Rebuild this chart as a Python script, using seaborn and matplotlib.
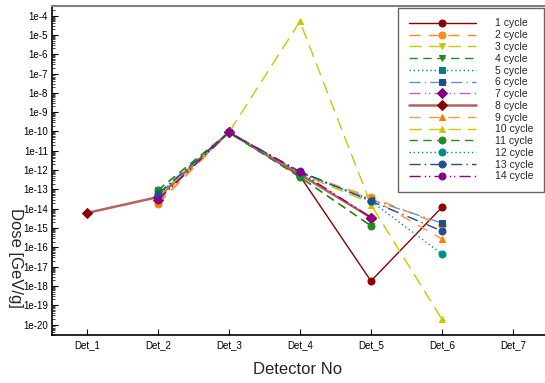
import numpy as np
import pandas as pd
import matplotlib
matplotlib.use("Agg")
import matplotlib.pyplot as plt
import seaborn as sns
from matplotlib.ticker import FixedLocator, LogLocator, NullFormatter

detectors = ["Det_1", "Det_2", "Det_3", "Det_4", "Det_5", "Det_6", "Det_7"]
nan = np.nan

cycle_labels = ["1 cycle", "2 cycle", "3 cycle", "4 cycle", "5 cycle", "6 cycle", "7 cycle",
                "8 cycle", "9 cycle", "10 cycle", "11 cycle", "12 cycle", "13 cycle", "14 cycle"]

c1 = [nan, 4.0e-14, 9.0e-11, 5.0e-13, 1.8e-18, 1.2e-14, nan]
c2 = [nan, 1.7e-14, 9.0e-11, 7.0e-13, 4.0e-14, 1.4e-15, nan]
c3 = [nan, 3.0e-14, 9.0e-11, 6.5e-13, 2.0e-14, nan, nan]
c4 = [nan, 9.0e-14, 9.0e-11, 4.4e-13, 1.3e-15, nan, nan]
c5 = [nan, 5.0e-14, 9.0e-11, 7.5e-13, 3.0e-14, nan, nan]
c6 = [nan, 5.8e-14, 9.0e-11, 8.0e-13, 3.0e-14, 1.8e-15, nan]
c7 = [nan, 2.8e-14, 9.0e-11, 7.0e-13, 3.5e-15, nan, nan]
c8 = [6.0e-15, 4.0e-14, 9.0e-11, 6.0e-13, 3.5e-15, nan, nan]
c9 = [nan, 2.0e-14, 9.0e-11, 7.5e-13, 3.5e-14, 2.7e-16, nan]
c10 = [nan, 4.5e-14, 9.0e-11, 5.0e-5, 1.6e-14, 1.9e-20, nan]
c11 = [nan, 9.0e-14, 9.0e-11, 4.4e-13, 1.3e-15, nan, nan]
c12 = [nan, 5.0e-14, 9.0e-11, 7.5e-13, 2.5e-14, 4.5e-17, nan]
c13 = [nan, 5.8e-14, 9.0e-11, 8.5e-13, 2.5e-14, 7.0e-16, nan]
c14 = [nan, 2.8e-14, 9.0e-11, 8.0e-13, 3.5e-15, nan, nan]
series = [c1, c2, c3, c4, c5, c6, c7, c8, c9, c10, c11, c12, c13, c14]

ytick_labels = ["1e-%d" % k for k in range(4, 21)]

styles = [
    dict(color="#8B0000", mfc="#8B0000", ls="-", marker="o", lw=1.0),
    dict(color="#FF8C1A", mfc="#FF8C1A", ls=(0, (8, 6)), marker="o", lw=1.0),
    dict(color="#C8C800", mfc="#C8C800", ls=(0, (9, 5)), marker="v", lw=1.0),
    dict(color="#228B22", mfc="#228B22", ls=(0, (6, 4)), marker="v", lw=1.0),
    dict(color="#008080", mfc="#008080", ls=(0, (1, 2)), marker="s", lw=1.0),
    dict(color="#6E8FC4", mfc="#1F4E8C", ls=(0, (8, 3, 1, 3)), marker="s", lw=1.0),
    dict(color="#C060D0", mfc="#800080", ls=(0, (8, 3, 1, 2, 1, 3)), marker="D", lw=1.0),
    dict(color="#B86060", mfc="#8B0000", ls="-", marker="D", lw=1.8),
    dict(color="#FF9A40", mfc="#FF8000", ls=(0, (8, 6)), marker="^", lw=1.0),
    dict(color="#C8C800", mfc="#C8C800", ls=(0, (9, 5)), marker="^", lw=1.0),
    dict(color="#228B22", mfc="#228B22", ls=(0, (6, 4)), marker="o", lw=1.0),
    dict(color="#008B8B", mfc="#008B8B", ls=(0, (1, 2)), marker="o", lw=1.0),
    dict(color="#1F4E8C", mfc="#1F4E8C", ls=(0, (8, 3, 1, 3)), marker="o", lw=1.0),
    dict(color="#8B008B", mfc="#8B008B", ls=(0, (8, 3, 1, 2, 1, 3)), marker="o", lw=1.0),
]

sns.set_theme(style="white")
plt.rcParams["font.family"] = ["Liberation Sans", "DejaVu Sans"]

fig = plt.figure(figsize=(5.45, 3.83), dpi=100)
ax = fig.add_axes([52 / 545, 1 - 335 / 383, (545 - 52) / 545, (335 - 6) / 383])

xpos = np.arange(len(detectors))
for lab, vals, st in zip(cycle_labels, series, styles):
    v = np.array(vals, dtype=float)
    m = ~np.isnan(v)
    df = pd.DataFrame({"x": xpos[m], "y": v[m]})
    sns.lineplot(data=df, x="x", y="y", ax=ax, color=st["color"], linestyle=st["ls"],
                 linewidth=st["lw"], marker=st["marker"], markersize=5,
                 markerfacecolor=st["mfc"], markeredgecolor=st["mfc"], label=lab,
                 sort=False, estimator=None)

ax.set_yscale("log")
ax.set_ylim(10 ** -20.54, 10 ** -3.5)
ax.set_xlim(-0.49, 6.45)
ax.set_xticks(xpos)
ax.set_xticklabels(detectors, fontsize=7)
yt = [10.0 ** -k for k in range(4, 21)]
ax.yaxis.set_major_locator(FixedLocator(yt))
ax.set_yticklabels(ytick_labels, fontsize=7)
ax.yaxis.set_minor_locator(LogLocator(base=10, subs=np.arange(2, 10), numticks=100))
ax.yaxis.set_minor_formatter(NullFormatter())
ax.tick_params(axis="both", which="major", direction="in", length=4, width=0.8,
               colors="black", pad=3, left=True, bottom=True)
ax.tick_params(axis="y", which="minor", direction="in", length=2, width=0.6, left=True)
ax.tick_params(axis="x", which="major", labelsize=7, pad=4)

ax.set_xlabel("")
ax.set_ylabel("")
fig.text(298 / 545, 1 - 370 / 383, "Detector No", fontsize=12, ha="center", va="center")
fig.text(15 / 545, 1 - 258 / 383, "Dose [GeV/g]", fontsize=12, rotation=270,
         ha="center", va="center")

for s in ["left", "bottom"]:
    ax.spines[s].set_color("black")
    ax.spines[s].set_linewidth(1.2)
ax.spines["top"].set_color("#808080")
ax.spines["top"].set_linewidth(1.5)
ax.spines["right"].set_visible(False)

leg = ax.legend(loc="upper right", bbox_to_anchor=(544 / 545, 1 - 8 / 383),
                bbox_transform=fig.transFigure, fontsize=7.5, frameon=True,
                fancybox=False, edgecolor="#404040", handlelength=6.5,
                handletextpad=1.8, labelspacing=0.17, borderpad=1.0,
                borderaxespad=0)
leg.get_frame().set_linewidth(1.0)

fig.savefig("out.png", dpi=100)
